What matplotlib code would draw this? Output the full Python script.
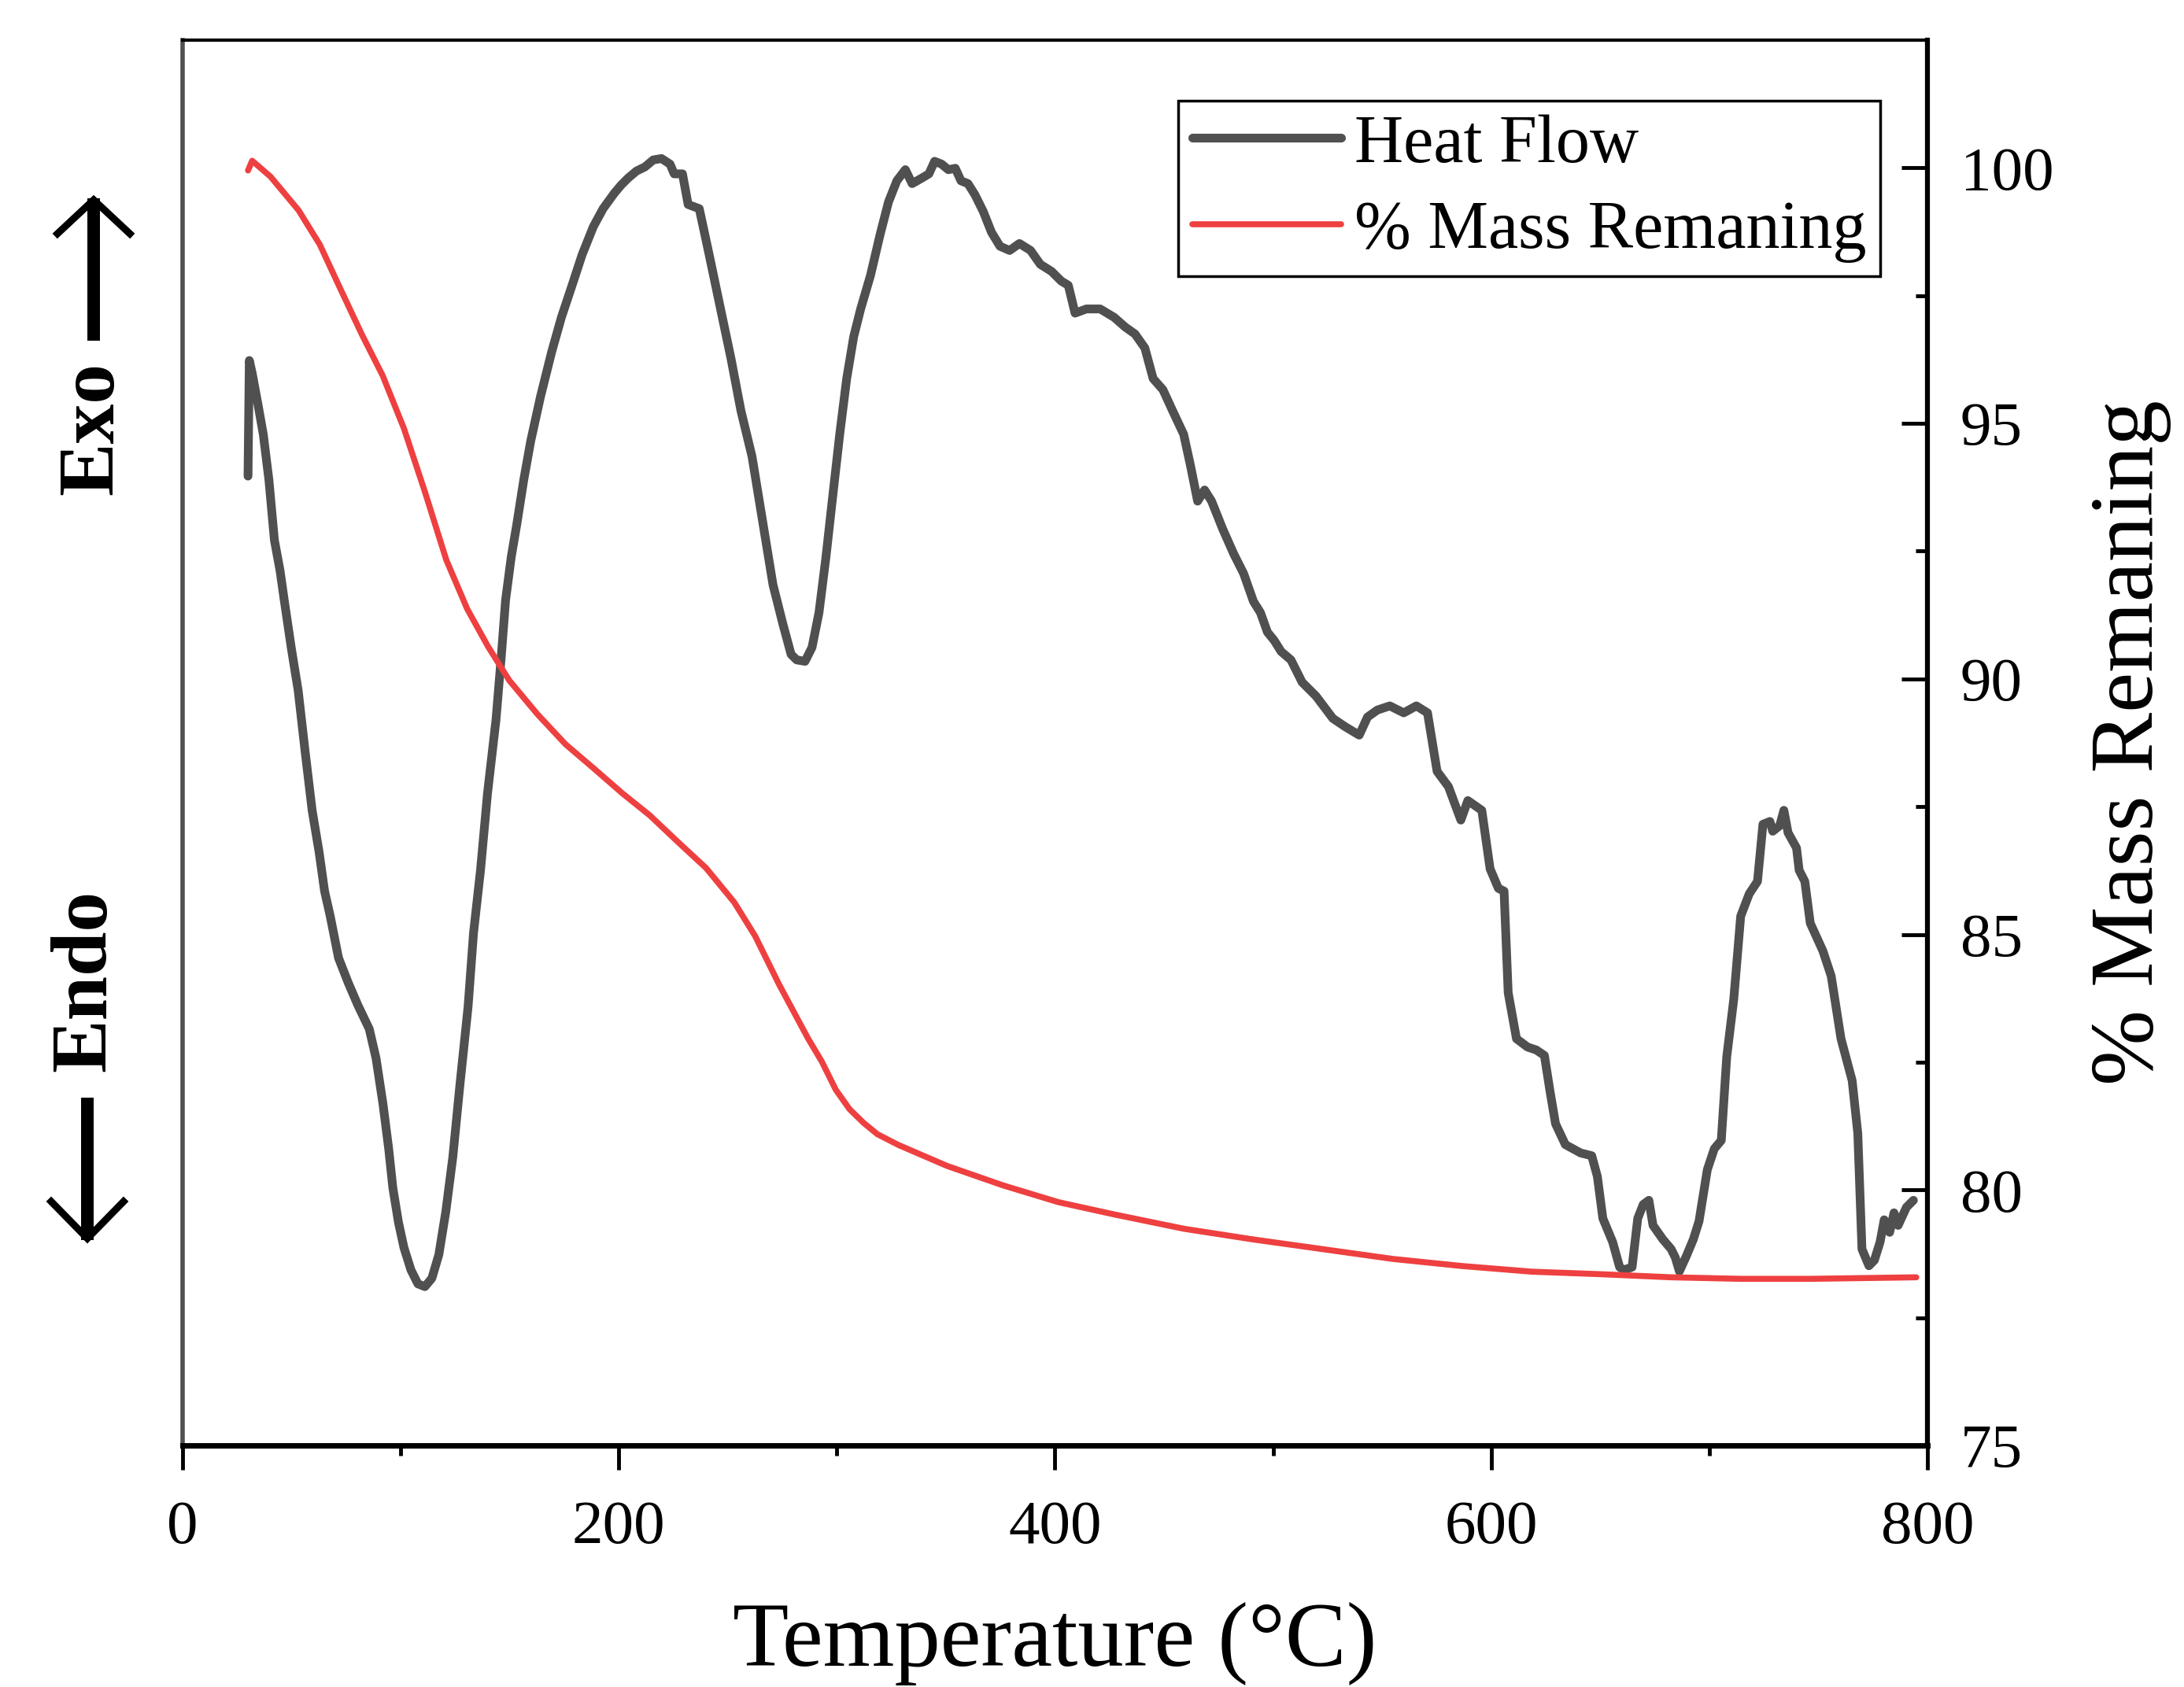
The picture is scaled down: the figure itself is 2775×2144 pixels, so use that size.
import matplotlib
matplotlib.use("Agg")
import matplotlib.pyplot as plt
from matplotlib.lines import Line2D

plt.rcParams['font.family'] = ['Liberation Serif', 'DejaVu Serif']

# heat flow (arbitrary units)
temp_hf = [30.0, 30.6, 31.9, 34.5, 37.0, 39.6, 42.1, 44.7, 46.6, 49.8,
           53.0, 56.2, 59.4, 62.6, 65.1, 67.7, 71.5, 76.0, 80.4, 85.6,
           88.7, 91.9, 94.5, 96.4, 99.0, 101.5, 104.7, 107.9, 111.1, 114.3,
           117.5, 120.7, 123.9, 127.1, 130.9, 133.4, 136.6, 139.8, 143.7, 146.2,
           148.1, 150.7, 153.2, 156.4, 159.6, 164.1, 169.2, 173.7, 178.8, 183.2,
           188.3, 192.8, 197.9, 201.1, 204.3, 208.1, 212.0, 215.8, 219.6, 223.5,
           225.4, 229.2, 231.8, 236.9, 241.3, 246.4, 251.5, 256.0, 261.1, 265.6,
           270.7, 275.2, 279.0, 281.6, 285.4, 288.6, 291.8, 295.0, 298.2, 301.3,
           304.5, 307.7, 310.9, 315.4, 319.9, 323.7, 327.5, 331.4, 334.5, 339.0,
           342.2, 344.8, 348.0, 351.1, 354.3, 356.9, 360.1, 363.3, 367.1, 370.9,
           374.8, 379.2, 383.7, 388.8, 393.3, 398.4, 402.9, 406.1, 409.2, 414.4,
           420.7, 427.1, 432.2, 436.7, 441.2, 445.0, 449.5, 453.9, 459.0, 462.2,
           465.4, 468.6, 471.8, 476.9, 482.0, 486.5, 491.0, 494.2, 497.4, 500.5,
           503.7, 508.2, 513.3, 519.7, 527.4, 533.1, 539.5, 543.3, 547.8, 553.5,
           559.9, 565.7, 570.8, 575.2, 580.4, 586.1, 589.3, 595.7, 599.5, 603.3,
           605.9, 607.8, 611.6, 616.7, 620.6, 624.4, 627.0, 629.5, 634.0, 641.0,
           646.1, 648.7, 651.2, 655.7, 658.9, 660.8, 664.6, 667.2, 669.7, 672.3,
           674.2, 678.7, 682.5, 684.4, 686.3, 689.5, 692.7, 695.3, 699.1, 702.3,
           705.5, 708.0, 711.2, 714.4, 718.3, 722.1, 724.6, 727.8, 729.1, 732.3,
           734.2, 736.1, 740.0, 741.2, 743.8, 746.3, 752.1, 755.9, 760.4, 765.5,
           768.1, 770.0, 773.2, 775.7, 778.3, 780.2, 782.7, 784.7, 786.6, 790.4,
           793.6]
heat_flow = [696, 779, 770, 748, 726, 693, 650, 628, 607, 573,
             542, 498, 456, 426, 398, 380, 350, 332, 316, 299,
             278, 245, 213, 185, 160, 142, 126, 116, 114, 120,
             137, 168, 207, 258, 315, 368, 413, 468, 521, 568,
             607, 638, 661, 693, 721, 753, 785, 810, 834, 855,
             875, 888, 899, 905, 910, 915, 918, 923, 924, 920,
             913, 913, 891, 888, 856, 818, 780, 743, 710, 667,
             618, 590, 568, 564, 563, 573, 598, 638, 683, 726,
             766, 796, 816, 840, 870, 893, 908, 916, 906, 910,
             913, 922, 920, 916, 917, 908, 906, 898, 886, 871,
             861, 858, 863, 858, 848, 843, 836, 833, 813, 816,
             816, 810, 803, 798, 788, 766, 758, 743, 726, 703,
             678, 686, 678, 658, 640, 626, 606, 598, 584, 578,
             570, 564, 548, 538, 522, 516, 510, 523, 528, 531,
             526, 531, 526, 484, 473, 449, 463, 456, 414, 400,
             398, 325, 292, 286, 284, 280, 254, 231, 216, 210,
             208, 193, 163, 146, 128, 126, 128, 163, 173, 176,
             158, 148, 141, 135, 125, 136, 148, 161, 198, 213,
             219, 279, 320, 380, 396, 405, 446, 448, 441, 445,
             456, 440, 429, 413, 405, 375, 355, 337, 292, 262,
             224, 141, 129, 133, 146, 162, 153, 167, 158, 171,
             176]

# % mass remaining
temp_tga = [30.0, 31.9, 40.3, 53.2, 62.9, 72.5, 82.2, 91.8, 101.5, 111.2,
            120.9, 130.5, 140.1, 149.8, 162.7, 175.6, 188.5, 201.4, 214.2, 227.1,
            240.0, 252.9, 262.5, 273.5, 286.7, 293.1, 299.5, 305.8, 312.3, 318.6,
            328.2, 350.5, 376.1, 401.6, 427.2, 459.1, 491.0, 522.9, 554.8, 586.8,
            618.7, 650.6, 682.6, 714.5, 746.4, 794.9]
mass = [99.95, 100.14, 99.83, 99.17, 98.50, 97.62, 96.74, 95.93, 94.90, 93.65,
        92.33, 91.37, 90.63, 89.97, 89.31, 88.72, 88.25, 87.77, 87.33, 86.81,
        86.30, 85.63, 84.97, 84.02, 82.97, 82.51, 81.96, 81.58, 81.31, 81.09,
        80.88, 80.47, 80.09, 79.76, 79.52, 79.24, 79.03, 78.84, 78.65, 78.51,
        78.40, 78.35, 78.29, 78.26, 78.26, 78.29]

x_ticks = [0, 200, 400, 600, 800]
x_minor = [100, 300, 500, 700]
y_ticks = [75, 80, 85, 90, 95, 100]
y_minor = [77.5, 82.5, 87.5, 92.5, 97.5]

gray = '#505050'
red = '#ee4040'

fig = plt.figure(figsize=(27.75, 21.44), dpi=100)
ax = fig.add_axes([0.0836, 0.1432, 0.7989, 0.8330])
ax2 = ax.twinx()

ax.plot(temp_hf, heat_flow, color=gray, lw=8, solid_capstyle='round',
        solid_joinstyle='round', label='Heat Flow')
ax2.plot(temp_tga, mass, color=red, lw=5.5, solid_capstyle='round',
         solid_joinstyle='round', label='% Mass Remaning')

ax.set_xlim(0, 800)
ax.set_ylim(0, 1009)
ax.set_yticks([])
ax.set_xticks(x_ticks)
ax.set_xticks(x_minor, minor=True)
ax.tick_params(axis='x', which='major', direction='out', length=22, width=3.5,
               labelsize=57, pad=28)
ax.tick_params(axis='x', which='minor', direction='out', length=9.5, width=3.5)
ax.spines['bottom'].set_linewidth(5)
ax.spines['left'].set_color(gray)
ax.spines['left'].set_linewidth(4)
ax.spines['top'].set_linewidth(3)
ax.spines['right'].set_visible(False)

ax2.set_ylim(75, 102.5)
ax2.set_yticks(y_ticks)
ax2.set_yticks(y_minor, minor=True)
ax2.tick_params(axis='y', which='major', direction='in', length=24, width=3.5,
                labelsize=57, pad=30)
ax2.tick_params(axis='y', which='minor', direction='in', length=11, width=3.5)
for s in ['left', 'top', 'bottom']:
    ax2.spines[s].set_visible(False)
ax2.spines['right'].set_linewidth(4.5)

ax.set_xlabel('Temperature (°C)', fontsize=84, labelpad=42)
ax2.set_ylabel('% Mass Remaning', fontsize=83, labelpad=33)

h1, l1 = ax.get_legend_handles_labels()
h2, l2 = ax2.get_legend_handles_labels()
leg = ax2.legend(h1 + h2, l1 + l2, loc='upper right', bbox_to_anchor=(0.973, 0.957),
                 fontsize=62, fancybox=False, edgecolor='black', framealpha=1,
                 handlelength=2.2, handletextpad=0.2, borderpad=0.2,
                 labelspacing=0.35, borderaxespad=0)
leg.get_frame().set_linewidth(2.5)


# Exo / Endo markers on the left, positions in pixels of the figure
def fx(px):
    return px / 2775


def fy(py):
    return 1 - py / 2144


fig.text(fx(119), fy(544), 'Exo', rotation=90, fontsize=73, fontweight='bold',
         ha='center', va='center')
fig.text(fx(110), fy(1246), 'Endo', rotation=90, fontsize=73, fontweight='bold',
         ha='center', va='center')

fig.add_artist(Line2D([fx(119), fx(119)], [fy(425), fy(260)], lw=11.5, color='black'))
fig.add_artist(Line2D([fx(73), fx(119), fx(165)], [fy(297), fy(254), fy(297)],
                      lw=6.5, color='black', solid_joinstyle='miter'))
fig.add_artist(Line2D([fx(111), fx(111)], [fy(1403), fy(1568)], lw=11.5, color='black'))
fig.add_artist(Line2D([fx(65), fx(111), fx(157)], [fy(1527), fy(1574), fy(1527)],
                      lw=6.5, color='black', solid_joinstyle='miter'))

fig.savefig('out.png', dpi=100)
